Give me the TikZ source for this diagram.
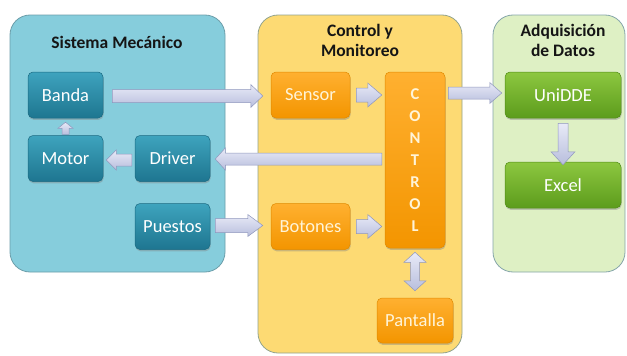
\documentclass[tikz,border=0pt]{standalone}
\usepackage{fontspec}
\setmainfont{Carlito}
\usetikzlibrary{calc,shadows}
\definecolor{bluepanel}{HTML}{86CDDC}
\definecolor{blueborder}{HTML}{6C9EAA}
\definecolor{bluetop}{HTML}{3EA3BE}
\definecolor{bluebot}{HTML}{1E7690}
\definecolor{blueedge}{HTML}{1B6A82}
\definecolor{yelpanel}{HTML}{FDDA73}
\definecolor{yelborder}{HTML}{93A48E}
\definecolor{ortop}{HTML}{FFB030}
\definecolor{orbot}{HTML}{F39500}
\definecolor{oredge}{HTML}{E08A00}
\definecolor{grnpanel}{HTML}{DEF0C4}
\definecolor{grnborder}{HTML}{86A6AA}
\definecolor{grtop}{HTML}{8DC740}
\definecolor{grbot}{HTML}{5C9C1C}
\definecolor{gredge}{HTML}{4F8A16}
\definecolor{arrtop}{HTML}{E8EAF7}
\definecolor{arrbot}{HTML}{B8BEDD}
\definecolor{arredge}{HTML}{8F97BD}
\definecolor{ortext}{HTML}{FFF4D8}
\definecolor{titletext}{HTML}{151515}
% single block arrow: [opts]{from}{to}{shaft half}{head half}{head length}
\newcommand\blockarrow[6][]{%
  \path[barrow,#1] let \p1=#2, \p2=#3,
    \n1={atan2(\y2-\y1,\x2-\x1)}, \n2={veclen(\x2-\x1,\y2-\y1)} in
    ($(\p1)+(\n1+90:#4)$)
    -- ($(\p1)+(\n1:\n2-#6)+(\n1+90:#4)$)
    -- ($(\p1)+(\n1:\n2-#6)+(\n1+90:#5)$)
    -- (\p2)
    -- ($(\p1)+(\n1:\n2-#6)+(\n1-90:#5)$)
    -- ($(\p1)+(\n1:\n2-#6)+(\n1-90:#4)$)
    -- ($(\p1)+(\n1-90:#4)$) -- cycle;}
% double block arrow
\newcommand\dblockarrow[6][]{%
  \path[barrow,#1] let \p1=#2, \p2=#3,
    \n1={atan2(\y2-\y1,\x2-\x1)}, \n2={veclen(\x2-\x1,\y2-\y1)} in
    (\p1)
    -- ($(\p1)+(\n1:#6)+(\n1+90:#5)$)
    -- ($(\p1)+(\n1:#6)+(\n1+90:#4)$)
    -- ($(\p1)+(\n1:\n2-#6)+(\n1+90:#4)$)
    -- ($(\p1)+(\n1:\n2-#6)+(\n1+90:#5)$)
    -- (\p2)
    -- ($(\p1)+(\n1:\n2-#6)+(\n1-90:#5)$)
    -- ($(\p1)+(\n1:\n2-#6)+(\n1-90:#4)$)
    -- ($(\p1)+(\n1:#6)+(\n1-90:#4)$)
    -- ($(\p1)+(\n1:#6)+(\n1-90:#5)$) -- cycle;}
\begin{document}
\begin{tikzpicture}[x=1pt,y=1pt,
  panel/.style={rounded corners=20pt, line width=0.8pt, inner sep=0pt},
  box/.style={rounded corners=5pt, minimum width=75pt, minimum height=46pt, inner sep=0pt,
    font=\fontsize{18.5}{20}\selectfont, text=white, line width=0.5pt,
    drop shadow={shadow xshift=0.6pt, shadow yshift=-1.8pt, opacity=0.4}},
  bbox/.style={box, top color=bluetop, bottom color=bluebot, draw=blueedge},
  obox/.style={box, top color=ortop, bottom color=orbot, draw=oredge, text=ortext},
  gbox/.style={box, top color=grtop, bottom color=grbot, draw=gredge},
  title/.style={font=\bfseries\fontsize{17.5}{20}\selectfont, align=center, text=titletext},
  barrow/.style={draw=arredge, top color=arrtop, bottom color=arrbot, line width=0.5pt}]
\useasboundingbox (0,0) rectangle (627,-356);
\fill[white] (0,0) rectangle (627,-356);
% panels
\node[panel, draw=blueborder, fill=bluepanel, minimum width=215pt, minimum height=257pt] (mech) at (117.5,-143.5) {};
\node[panel, draw=yelborder, fill=yelpanel, minimum width=204pt, minimum height=338pt] (ctrlp) at (360,-184) {};
\node[panel, draw=grnborder, fill=grnpanel, minimum width=132pt, minimum height=257pt] (datp) at (559,-143.5) {};
% titles
\node[title] (t1) at (117,-42) {Sistema Mecánico};
\node[title] (t2) at (360,-40) {Control y\\Monitoreo};
\node[title] (t3) at (563,-40) {Adquisición\\de Datos};
% boxes
\node[bbox] (banda) at (65.5,-95) {Banda};
\node[bbox] (motor) at (65.5,-158.5) {Motor};
\node[bbox] (driver) at (172.5,-158.5) {Driver};
\node[bbox] (puestos) at (172.5,-226.5) {Puestos};
\node[obox, minimum width=79pt] (sensor) at (310.5,-95) {Sensor};
\node[obox, minimum width=79pt] (botones) at (310.5,-226.5) {Botones};
\node[obox, minimum width=60pt, minimum height=176pt, align=center,
  font=\bfseries\fontsize{16.5}{22}\selectfont] (control) at (415,-160) {C\\O\\N\\T\\R\\O\\L};
\node[obox, minimum width=76pt, minimum height=45pt] (pantalla) at (415,-320.5) {Pantalla};
\node[gbox, minimum width=116pt] (unidde) at (563,-95) {UniDDE};
\node[gbox, minimum width=116pt] (excel) at (563,-185) {Excel};
% arrows
\blockarrow{($(banda.east)+(9,-1)$)}{($(sensor.west)+(-8,-1)$)}{6.5}{11.5}{12}
\blockarrow{($(motor.north)+(0,1)$)}{($(banda.south)+(0,-4)$)}{3.5}{7.5}{6}
\blockarrow{($(driver.west)+(-3,-1.5)$)}{($(motor.east)+(3,-1.5)$)}{6}{10}{10}
\blockarrow{($(control.west|-driver.east)+(-3,-0.5)$)}{($(driver.east)+(5,-0.5)$)}{6}{11}{10}
\blockarrow{($(puestos.east)+(5,1)$)}{($(botones.west)+(-8,1)$)}{7}{11}{15}
\blockarrow{($(sensor.east)+(6,0)$)}{($(control.west|-sensor.east)+(-3,0)$)}{7}{12}{14}
\blockarrow{($(botones.east)+(6,0)$)}{($(control.west|-botones.east)+(-3,0)$)}{7}{12}{14}
\blockarrow{($(control.east|-unidde.west)+(3,2)$)}{($(unidde.west)+(-3,2)$)}{6}{10.5}{12}
\blockarrow{($(unidde.south)+(0,-5)$)}{($(excel.north)+(0,-3)$)}{5}{12}{13}
\dblockarrow{($(control.south)+(0,-4)$)}{($(pantalla.north)+(0,7)$)}{4.5}{11}{10}
\end{tikzpicture}
\end{document}
